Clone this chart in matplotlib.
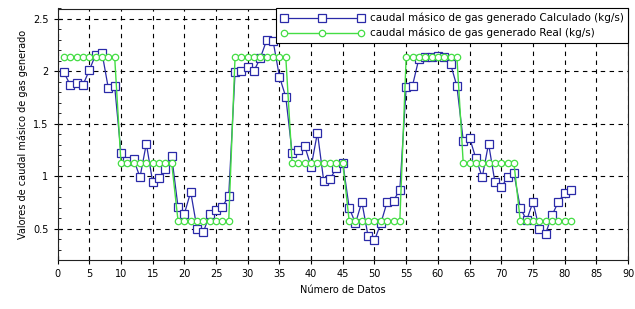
import matplotlib
matplotlib.use("Agg")
from matplotlib import pyplot as plt
from matplotlib.ticker import MultipleLocator
import numpy as np

# datos
n_datos = np.arange(1, 82)
calculado = [1.99, 1.87, 1.885, 1.87, 2.01, 2.16, 2.18, 1.84, 1.86,
             1.22, 1.14, 1.16, 0.99, 1.31, 0.945, 0.98, 1.07, 1.19,
             0.706, 0.64, 0.85, 0.50, 0.467, 0.636, 0.68, 0.71, 0.81,
             1.99, 2.0, 2.044, 2.006, 2.13, 2.30, 2.29, 1.95, 1.757,
             1.225, 1.247, 1.286, 1.09, 1.415, 0.95, 0.977, 1.075, 1.13,
             0.70, 0.55, 0.755, 0.425, 0.387, 0.55, 0.755, 0.765, 0.872,
             1.85, 1.865, 2.12, 2.14, 2.14, 2.15, 2.14, 2.07, 1.86,
             1.34, 1.367, 1.17, 0.99, 1.31, 0.945, 0.893, 0.99, 1.027,
             0.70, 0.578, 0.753, 0.50, 0.451, 0.626, 0.753, 0.84, 0.872]
niveles_real = [2.14, 1.126, 0.575]
real = []
for ciclo in range(3):
    for nivel in niveles_real:
        real += [nivel] * 9

lbl_calc = "caudal másico de gas generado Calculado (kg/s)"
lbl_real = "caudal másico de gas generado Real (kg/s)"

fig = plt.figure(figsize=(6.35, 3.09), dpi=100)
ax = fig.add_axes([57.6 / 635, 1 - 260 / 309, (628 - 57.6) / 635, (260 - 8.5) / 309])

ax.plot(n_datos, calculado, color="#2a2aa8", lw=0.9, marker="s", ms=5.5,
        mfc="white", mec="#2a2aa8", mew=0.9, label=lbl_calc, zorder=3)
ax.plot(n_datos, real, color="#44dd44", lw=1.0, marker="o", ms=4.6,
        mfc="white", mec="#44dd44", mew=0.9, label=lbl_real, zorder=4)

ax.set_xlim(0, 90)
ax.set_ylim(0.2, 2.6)
ax.xaxis.set_major_locator(MultipleLocator(5))
ax.yaxis.set_major_locator(MultipleLocator(0.5))
ax.yaxis.set_minor_locator(MultipleLocator(0.1))
ax.yaxis.set_major_formatter(plt.FuncFormatter(lambda v, p: f"{v:g}"))
ax.tick_params(axis="both", labelsize=7, direction="inout", length=6, width=0.8)
ax.tick_params(axis="y", which="minor", direction="in", length=2.5)
ax.grid(True, which="major", color="black", ls=(0, (4, 4)), lw=0.8)

for s in ax.spines.values():
    s.set_linewidth(0.8)
    s.set_color("#222222")

ax.set_xlabel("Número de Datos", fontsize=7)
ax.set_ylabel("Valores de caudal másico de gas generado", fontsize=7)

leg = ax.legend(loc="upper right", fontsize=7.5, frameon=True, fancybox=False,
                borderaxespad=0.0, handlelength=8, edgecolor="black", numpoints=3,
                framealpha=1, borderpad=0.4, labelspacing=0.45, handletextpad=0.6)
leg.get_frame().set_linewidth(0.8)

fig.savefig("out.png", dpi=100)
